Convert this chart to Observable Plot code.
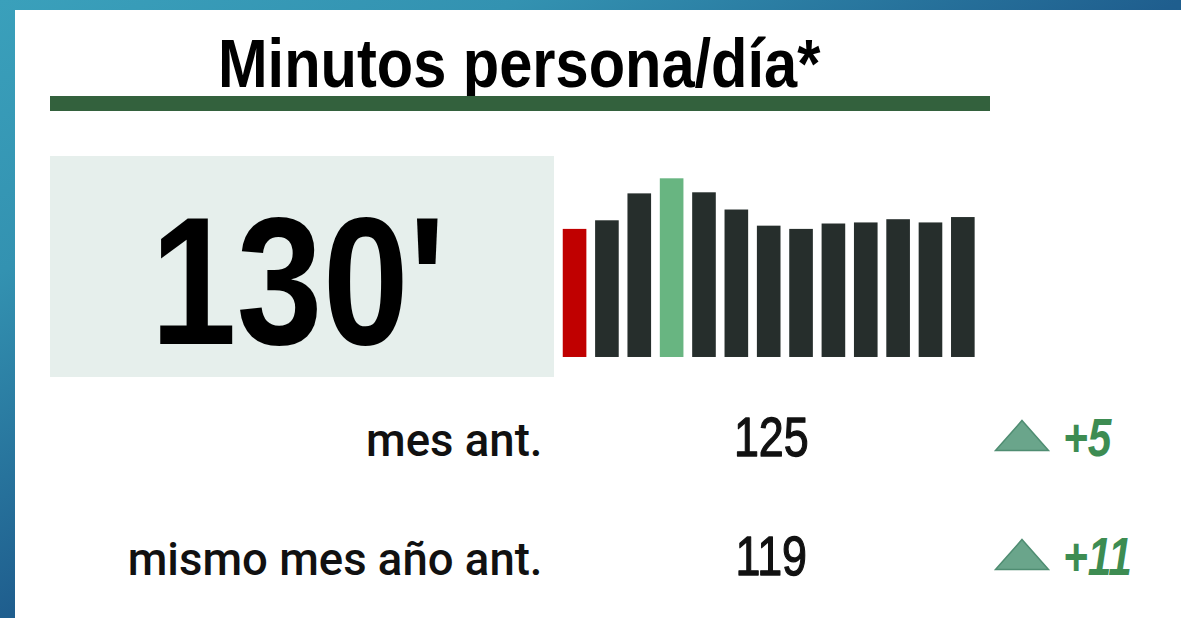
<!DOCTYPE html>
<html>
<head>
<meta charset="utf-8">
<script src="https://cdn.jsdelivr.net/npm/d3@7"></script>
<script src="https://cdn.jsdelivr.net/npm/@observablehq/plot@0.6"></script>
<style>
  html, body { margin: 0; padding: 0; width: 1181px; height: 618px; overflow: hidden; }
  body {
    position: relative;
    background: linear-gradient(to bottom right, #3aa0bb 0%, #3392b1 22%, #1f5e8e 50%, #1c5587 100%);
    font-family: "Liberation Sans", sans-serif;
  }
  #panel { position: absolute; left: 15px; top: 10px; right: 0; bottom: 0; background: #fff; }
  #title {
    position: absolute; left: 218px; top: 29.4px; margin: 0;
    font-size: 68px; line-height: 68px; font-weight: bold; color: #000; white-space: nowrap;
    transform: scaleX(0.876); transform-origin: 0 0;
  }
  #rule { position: absolute; left: 50px; top: 96px; width: 940px; height: 15px; background: #33613d; }
  #kpi {
    position: absolute; left: 50px; top: 156px; width: 504px; height: 221px; background: #e6efec;
  }
  #kpiText {
    position: absolute; left: 50px; top: 190px; width: 496px; text-align: center;
    font-size: 182px; line-height: 182px; font-weight: bold; color: #000; white-space: nowrap;
    transform: scaleX(0.85); transform-origin: 248px 0;
  }
  #bars { position: absolute; left: 554px; top: 174.3px; }
  #rows { position: absolute; left: 0; top: 0; }
  svg { overflow: visible; }
</style>
</head>
<body>
<div id="panel"></div>
<div id="title"></div>
<div id="rule"></div>
<div id="kpi"></div>
<div id="kpiText"></div>
<div id="bars"></div>
<div id="rows"></div>
<script>
// ---- data ----
const titleText = "Minutos persona/día*";
const unitMark = "'";
const periods = [1, 2, 3, 4, 5, 6, 7, 8, 9, 10, 11, 12, 13];
const minutes = [119, 127, 152, 166, 153, 137, 122, 119, 124, 125, 128, 125, 130];
const current = 130;
const compLabels = ["mes ant.", "mismo mes año ant."];
const compValues = [125, 119];

// ---- header & KPI ----
document.getElementById("title").textContent = titleText;
document.getElementById("kpiText").textContent = `${current}${unitMark}`;

// ---- bars ----
const maxV = d3.max(minutes);
const barData = periods.map((p, i) => ({
  period: p,
  value: minutes[i],
  role: i === 0 ? "prev" : minutes[i] === maxV ? "peak" : "other"
}));

const bars = Plot.plot({
  width: 429.4,
  height: 183,
  margin: 0,
  style: { background: "none", overflow: "visible" },
  x: { type: "band", domain: periods, padding: 0.27, round: false, axis: null },
  y: { domain: [0, 170], axis: null },
  color: { domain: ["prev", "peak", "other"], range: ["#c00000", "#68b581", "#262e2c"] },
  marks: [
    Plot.barY(barData, { x: "period", y: "value", fill: "role" })
  ]
});
document.getElementById("bars").appendChild(bars);

// ---- comparison rows ----
const rows = compLabels.map((l, i) => ({ label: l, value: compValues[i], diff: current - compValues[i] }));

const wideTriangle = {
  draw(ctx, size) {
    const s = Math.sqrt(size / 795);
    const w = 26.5 * s, h = 30 * s;
    ctx.moveTo(0, -h / 2);
    ctx.lineTo(w, h / 2);
    ctx.lineTo(-w, h / 2);
    ctx.closePath();
  }
};

const rowPlot = Plot.plot({
  width: 1181,
  height: 618,
  margin: 0,
  style: { background: "none", overflow: "visible" },
  x: { type: "point", domain: ["label", "value", "trend"], range: [542, 1021.5], padding: 0, round: false, axis: null },
  y: { type: "point", domain: compLabels, range: [455, 574], padding: 0, round: false, axis: null },
  marks: [
    Plot.text(rows, {
      x: () => "label", y: "label", text: "label",
      textAnchor: "end", lineAnchor: "bottom",
      fontFamily: "Roboto, 'Liberation Sans', sans-serif", fontSize: 45.5, fontWeight: 500, fill: "#111"
    }),
    Plot.text(rows, {
      x: () => "value", y: "label", text: d => String(d.value),
      textAnchor: "middle", lineAnchor: "bottom", dx: -11,
      fontFamily: "'Liberation Sans', sans-serif", fontSize: 56, fill: "#111",
      stroke: "#111", strokeWidth: 1.3
    }),
    Plot.dot(rows, {
      x: () => "trend", y: "label", symbol: wideTriangle, r: Math.sqrt(795 / Math.PI),
      dy: -20, fill: "#6aa58b", stroke: "#4f8d72", strokeWidth: 1.5
    }),
    Plot.text(rows, {
      x: () => "trend", y: "label", text: d => (d.diff > 0 ? "+" : "") + d.diff,
      textAnchor: "start", lineAnchor: "bottom", dx: 41,
      fontFamily: "'Liberation Sans', sans-serif", fontSize: 53, fontWeight: "bold", fontStyle: "italic",
      fill: "#3d8c52"
    })
  ]
});
// condense the numeric texts (narrow DIN-like look)
const textGroups = rowPlot.querySelectorAll('g[aria-label="text"]');
[1, 2].forEach(k => {
  const g = textGroups[k];
  if (!g) return;
  g.querySelectorAll("text").forEach(t => {
    const tr = t.getAttribute("transform") || "";
    t.setAttribute("transform", tr + " scale(0.8,1)");
  });
});
document.getElementById("rows").appendChild(rowPlot);
</script>
</body>
</html>
